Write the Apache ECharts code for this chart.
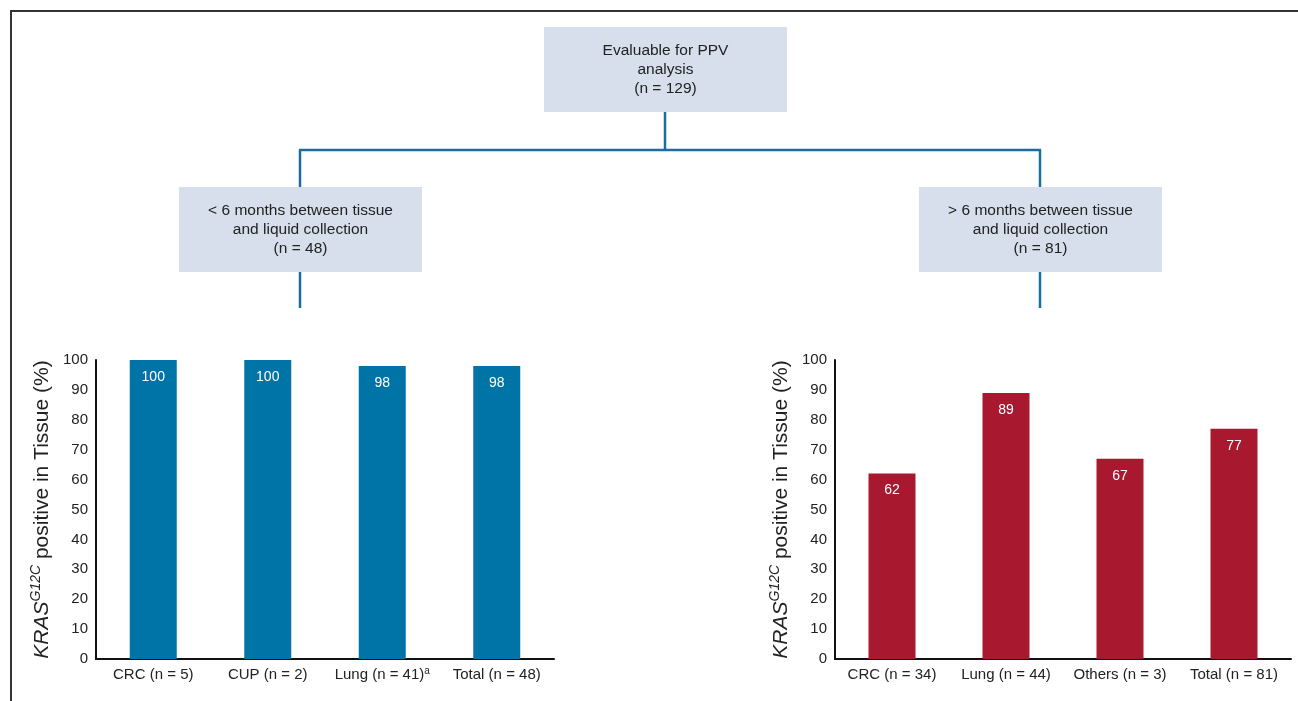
<!DOCTYPE html>
<html><head><meta charset="utf-8">
<script src="https://cdn.jsdelivr.net/npm/echarts@6/dist/echarts.min.js"></script>
<style>html,body{margin:0;padding:0;background:#fff}#c{width:1298px;height:701px}</style>
</head><body><div id="c"></div>
<script>
const leftCategories = ['CRC (n = 5)', 'CUP (n = 2)', 'Lung (n = 41)^a', 'Total (n = 48)'];
const leftValues = [100, 100, 98, 98];
const rightCategories = ['CRC (n = 34)', 'Lung (n = 44)', 'Others (n = 3)', 'Total (n = 81)'];
const rightValues = [62, 89, 67, 77];
const yTicks = [0, 10, 20, 30, 40, 50, 60, 70, 80, 90, 100];
const boxTop = ['Evaluable for PPV', 'analysis', '(n = 129)'];
const boxLeft = ['< 6 months between tissue', 'and liquid collection', '(n = 48)'];
const boxRight = ['> 6 months between tissue', 'and liquid collection', '(n = 81)'];

const FONT = '"Liberation Sans", Arial, sans-serif';
const BLUE = '#0074a7', RED = '#a8182f', BOX = '#d6dfeb', LINE = '#1a6d9c';

function catLabel(v) {
  if (v.indexOf('^') >= 0) { const p = v.split('^'); return '{n|' + p[0] + '}{s|' + p[1] + '}'; }
  return '{n|' + v + '}';
}
const xRich = {
  n: { fontSize: 15, color: '#222', fontFamily: FONT, lineHeight: 18 },
  s: { fontSize: 10, color: '#222', fontFamily: FONT, lineHeight: 18, verticalAlign: 'top' }
};
const nameRich = {
  i: { fontSize: 21, fontStyle: 'italic', color: '#222', fontFamily: FONT, lineHeight: 26 },
  sup: { fontSize: 14, fontStyle: 'italic', color: '#222', fontFamily: FONT, lineHeight: 26, verticalAlign: 'top' },
  n: { fontSize: 21, color: '#222', fontFamily: FONT, lineHeight: 26 }
};
function yAxis(idx) {
  return {
    type: 'value', gridIndex: idx, min: yTicks[0], max: yTicks[yTicks.length - 1], interval: 10,
    axisLine: { show: true, lineStyle: { color: '#111', width: 2 } },
    axisTick: { show: false }, splitLine: { show: false },
    axisLabel: { fontSize: 15, color: '#222', fontFamily: FONT, margin: 8 },
    name: '{i|KRAS}{sup|G12C}{n| positive in Tissue (%)}',
    nameLocation: 'middle', nameGap: 41, nameRotate: 90,
    nameTextStyle: { rich: nameRich }
  };
}
function xAxis(idx, cats) {
  return {
    type: 'category', gridIndex: idx, data: cats,
    axisLine: { show: true, lineStyle: { color: '#111', width: 2 } },
    axisTick: { show: false },
    axisLabel: { formatter: catLabel, rich: xRich, margin: 7, interval: 0 }
  };
}
function box(x, y, lines) {
  return {
    type: 'group', children: [
      { type: 'rect', shape: { x: x, y: y, width: 243, height: 85 }, style: { fill: BOX } },
      { type: 'text', x: x + 121.5, y: y + 42.5, style: { text: lines.join('\n'), fontSize: 15.5, lineHeight: 19, fontFamily: FONT, fill: '#222', align: 'center', verticalAlign: 'middle' } }
    ]
  };
}
function ln(x1, y1, x2, y2) {
  return { type: 'line', shape: { x1: x1, y1: y1, x2: x2, y2: y2 }, style: { stroke: LINE, lineWidth: 2.5 } };
}
const barLabel = { show: true, position: 'insideTop', distance: 10, color: '#fff', fontSize: 14, fontFamily: FONT };

const chart = echarts.init(document.getElementById('c'), null, { renderer: 'canvas' });
chart.setOption({
  animation: false,
  grid: [
    { left: 96, width: 458, top: 360, bottom: 42 },
    { left: 835, width: 456, top: 360, bottom: 42 }
  ],
  xAxis: [xAxis(0, leftCategories), xAxis(1, rightCategories)],
  yAxis: [yAxis(0), yAxis(1)],
  series: [
    { type: 'bar', xAxisIndex: 0, yAxisIndex: 0, data: leftValues, barWidth: 47, itemStyle: { color: BLUE }, label: barLabel },
    { type: 'bar', xAxisIndex: 1, yAxisIndex: 1, data: rightValues, barWidth: 47, itemStyle: { color: RED }, label: barLabel }
  ],
  graphic: [
    { type: 'polyline', shape: { points: [[11, 701], [11, 11], [1298, 11]] }, style: { stroke: '#333', lineWidth: 2, fill: null } },
    box(544, 27, boxTop),
    box(179, 187, boxLeft),
    box(919, 187, boxRight),
    ln(665, 112, 665, 150),
    ln(299, 150, 1041, 150),
    ln(300, 150, 300, 187),
    ln(1040, 150, 1040, 187),
    ln(300, 272, 300, 308),
    ln(1040, 272, 1040, 308)
  ]
});
</script></body></html>
